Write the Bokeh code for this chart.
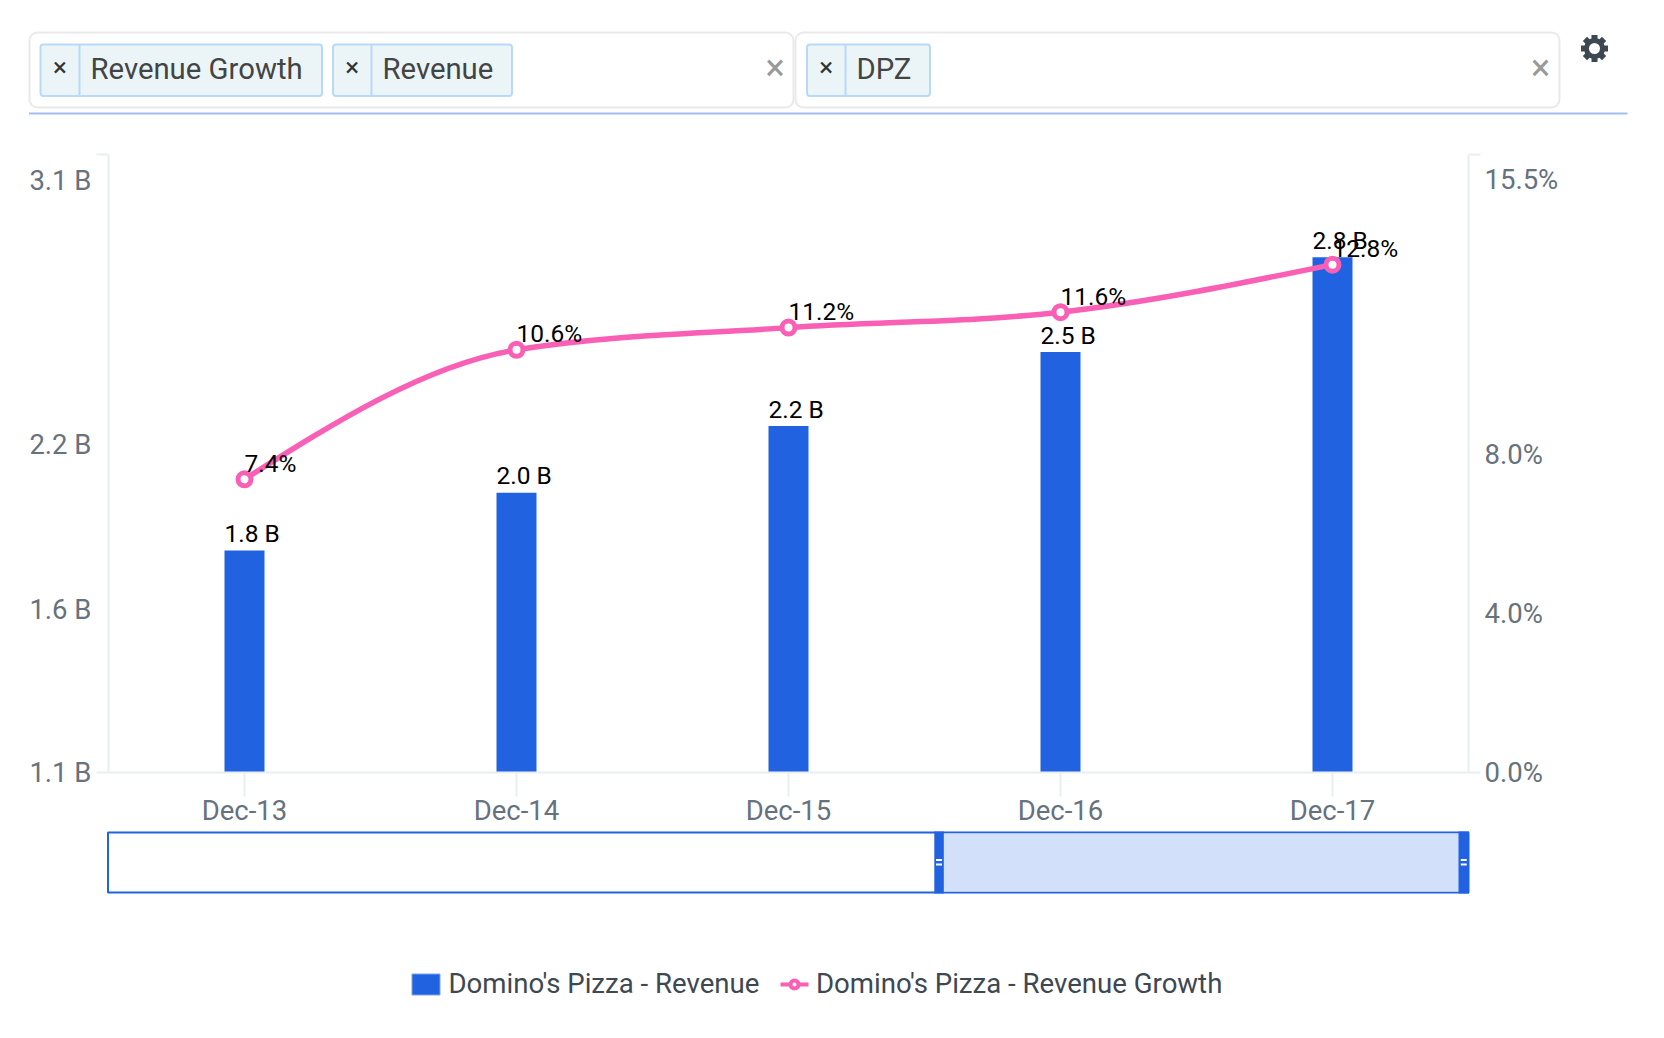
from math import cos, sin, pi, copysign
from bokeh.embed import file_html
from bokeh.resources import INLINE
from bokeh.plotting import figure
from bokeh.layouts import column
from bokeh.models import Range1d, LinearAxis, FixedTicker
from bokeh.core.properties import value

# ---- chart data
periods = ["Dec-13", "Dec-14", "Dec-15", "Dec-16", "Dec-17"]
revenue = [1.80, 1.995, 2.22, 2.47, 2.79]
revenue_labels = ["1.8 B", "2.0 B", "2.2 B", "2.5 B", "2.8 B"]
growth = [7.4, 10.67, 11.23, 11.62, 12.82]
growth_labels = ["7.4%", "10.6%", "11.2%", "11.6%", "12.8%"]
left_ticks = [1.05, 1.60, 2.157, 3.05]
left_tick_labels = ["1.1 B", "1.6 B", "2.2 B", "3.1 B"]
right_ticks = [0.0, 4.02, 8.02, 14.96]
right_tick_labels = ["0.0%", "4.0%", "8.0%", "15.5%"]
left_range = (1.05, 3.137)
right_range = (0.0, 15.6)
chip_texts_a = ["Revenue Growth", "Revenue"]
chip_texts_b = ["DPZ"]
legend_texts = ["Domino's Pizza - Revenue", "Domino's Pizza - Revenue Growth"]

FONT = value("Roboto")
BLUE = "#2062e0"
PINK = "#f95fb5"
AXIS = "#e9eef1"
TICKTXT = "#66727d"
DARK = "#3d4852"
xs = list(range(len(periods)))

W = 1656
OX = 0  # page offset of the figures


def page_fig(h, y0, y1):
    """A figure whose data units are page pixels."""
    f = figure(width=W, height=h, x_range=Range1d(OX, OX + W), y_range=Range1d(y1, y0),
               output_backend="svg", toolbar_location=None, min_border=0, frame_align=False,
               outline_line_color=None, x_axis_type=None, y_axis_type=None)
    f.grid.visible = False
    return f


# ---- top strip: filter boxes
top = page_fig(144, 0, 144)
top.quad(left=[29, 795], right=[793, 1559], top=[32, 32], bottom=[107, 107],
         fill_color="white", line_color="#e9e9e9", line_width=2, border_radius=8)
chips = [(40, 79, 321.5, chip_texts_a[0]), (332.5, 371, 511.5, chip_texts_a[1]),
         (806.5, 845, 929.5, chip_texts_b[0])]
for l, d, r, t in chips:
    top.quad(left=[l], right=[r], top=[44], bottom=[95.5], fill_color="#ebf5f8",
             line_color="#b8daf7", line_width=2, border_radius=3)
    top.segment([d], [44], [d], [95.5], line_color="#b8daf7", line_width=2)
    top.text([(l + d) / 2], [66], text=["×"], text_font=FONT, text_font_size="26px",
             text_color="#333333", text_align="center", text_baseline="middle")
    top.text([d + 11], [68], text=[t], text_font=FONT, text_font_size="29.3px",
             text_color="#444444", text_align="left", text_baseline="middle")
top.text([774.5, 1540], [67, 67], text=["×", "×"], text_font=FONT, text_font_size="36px",
         text_color="#999999", text_align="center", text_baseline="middle")
top.segment([28.5], [113], [1627], [113], line_color="#a3bdf0", line_width=2)
# gear
gx, gy = 1594, 48
ang = [k * pi / 4 for k in range(8)]
top.rect([gx + 10.5 * cos(a) for a in ang], [gy + 10.5 * sin(a) for a in ang], width=6, height=6,
         angle=[-a for a in ang], fill_color=DARK, line_color=None)
top.circle([gx], [gy], radius=10.5, fill_color=DARK, line_color=None)
top.circle([gx], [gy], radius=5.5, fill_color="white", line_color=None)

# ---- main chart
p = figure(width=W, height=686, x_range=Range1d(-0.5, len(periods) - 0.5),
           y_range=Range1d(*left_range), output_backend="svg", toolbar_location=None,
           min_border_left=108, min_border_right=188, min_border_top=10, min_border_bottom=58,
           frame_align=False, outline_line_color=None, x_axis_type=None, y_axis_type=None)
p.grid.visible = False
p.extra_y_ranges["pct"] = Range1d(*right_range)

xaxis = LinearAxis(ticker=FixedTicker(ticks=xs),
                   major_label_overrides={i: s for i, s in enumerate(periods)})
yleft = LinearAxis(ticker=FixedTicker(ticks=left_ticks, minor_ticks=list(left_range)),
                   major_label_overrides=dict(zip(left_ticks, left_tick_labels)))
yright = LinearAxis(y_range_name="pct", ticker=FixedTicker(ticks=right_ticks, minor_ticks=list(right_range)),
                    major_label_overrides=dict(zip(right_ticks, right_tick_labels)))
for ax in (xaxis, yleft, yright):
    ax.axis_line_color = AXIS
    ax.axis_line_width = 2
    ax.major_label_text_font = "Roboto"
    ax.major_label_text_font_size = "27.5px"
    ax.major_label_text_color = TICKTXT
xaxis.major_tick_out = 24
xaxis.major_tick_in = 0
xaxis.major_tick_line_color = AXIS
xaxis.major_tick_line_width = 2
xaxis.minor_tick_line_color = None
xaxis.major_label_standoff = -3
for ax, sd in ((yleft, 5), (yright, 4)):
    ax.major_tick_out = 0
    ax.major_tick_in = 0
    ax.major_tick_line_color = None
    ax.minor_tick_out = 12
    ax.minor_tick_in = 0
    ax.minor_tick_line_color = AXIS
    ax.minor_tick_line_width = 2
    ax.major_label_standoff = sd
p.add_layout(xaxis, "below")
p.add_layout(yleft, "left")
p.add_layout(yright, "right")

BAR_W = 0.147
p.vbar(x=xs, top=revenue, bottom=left_range[0], width=BAR_W, fill_color=BLUE, line_color=None)

# monotone-x curve through the growth points, as Bezier segments
n = len(growth)
sl = [growth[i + 1] - growth[i] for i in range(n - 1)]
t = [0.0] * n
for i in range(1, n - 1):
    s0, s1 = sl[i - 1], sl[i]
    q = (s0 + s1) / 2
    t[i] = (copysign(1, s0) + copysign(1, s1)) * min(abs(s0), abs(s1), 0.5 * abs(q))
t[0] = (3 * sl[0] - t[1]) / 2
t[-1] = (3 * sl[-1] - t[-2]) / 2
p.bezier(x0=xs[:-1], y0=growth[:-1], x1=xs[1:], y1=growth[1:],
         cx0=[x + 1 / 3 for x in xs[:-1]], cy0=[growth[i] + t[i] / 3 for i in range(n - 1)],
         cx1=[x - 1 / 3 for x in xs[1:]], cy1=[growth[i + 1] - t[i + 1] / 3 for i in range(n - 1)],
         line_color=PINK, line_width=5.5, y_range_name="pct")
p.scatter(xs, growth, marker="circle", size=13, fill_color="white", line_color=PINK, line_width=5,
          y_range_name="pct")

p.text([x - BAR_W / 2 for x in xs], revenue, text=revenue_labels, text_font=FONT, text_font_size="24.5px",
       text_color="black", text_align="left", text_baseline="alphabetic", y_offset=-17)
p.text(xs, growth, text=growth_labels, text_font=FONT, text_font_size="24.5px", text_color="black",
       text_align="left", text_baseline="alphabetic", y_offset=-16, y_range_name="pct")

# ---- bottom strip: range navigator and legend
bot = page_fig(200, 830, 1030)
bot.quad(left=[107.5], right=[1468], top=[832], bottom=[892], fill_color="white", line_color=BLUE, line_width=2)
bot.quad(left=[939], right=[1463], top=[833], bottom=[891], fill_color="#d2e0f9", line_color=None)
for l, r in ((933.8, 943.3), (1458, 1468.5)):
    bot.quad(left=[l], right=[r], top=[831], bottom=[893], fill_color=BLUE, line_color=None)
    c = (l + r) / 2
    bot.segment([c - 3, c - 3], [859.5, 864], [c + 3, c + 3], [859.5, 864], line_color="white", line_width=2)
bot.quad(left=[411.5], right=[439.5], top=[973.5], bottom=[994.5], fill_color=BLUE, line_color="#7ea3ea", line_width=1)
bot.segment([780], [984], [808], [984], line_color=PINK, line_width=4)
bot.scatter([794], [984], marker="circle", size=8, fill_color="white", line_color=PINK, line_width=4)
bot.text([448, 815.5], [982.5, 982.5], text=legend_texts, text_font=FONT, text_font_size="27.6px",
         text_color=DARK, text_align="left", text_baseline="middle")

page = column(top, p, bot, spacing=0)
open("out.html", "w").write(file_html(page, INLINE))
